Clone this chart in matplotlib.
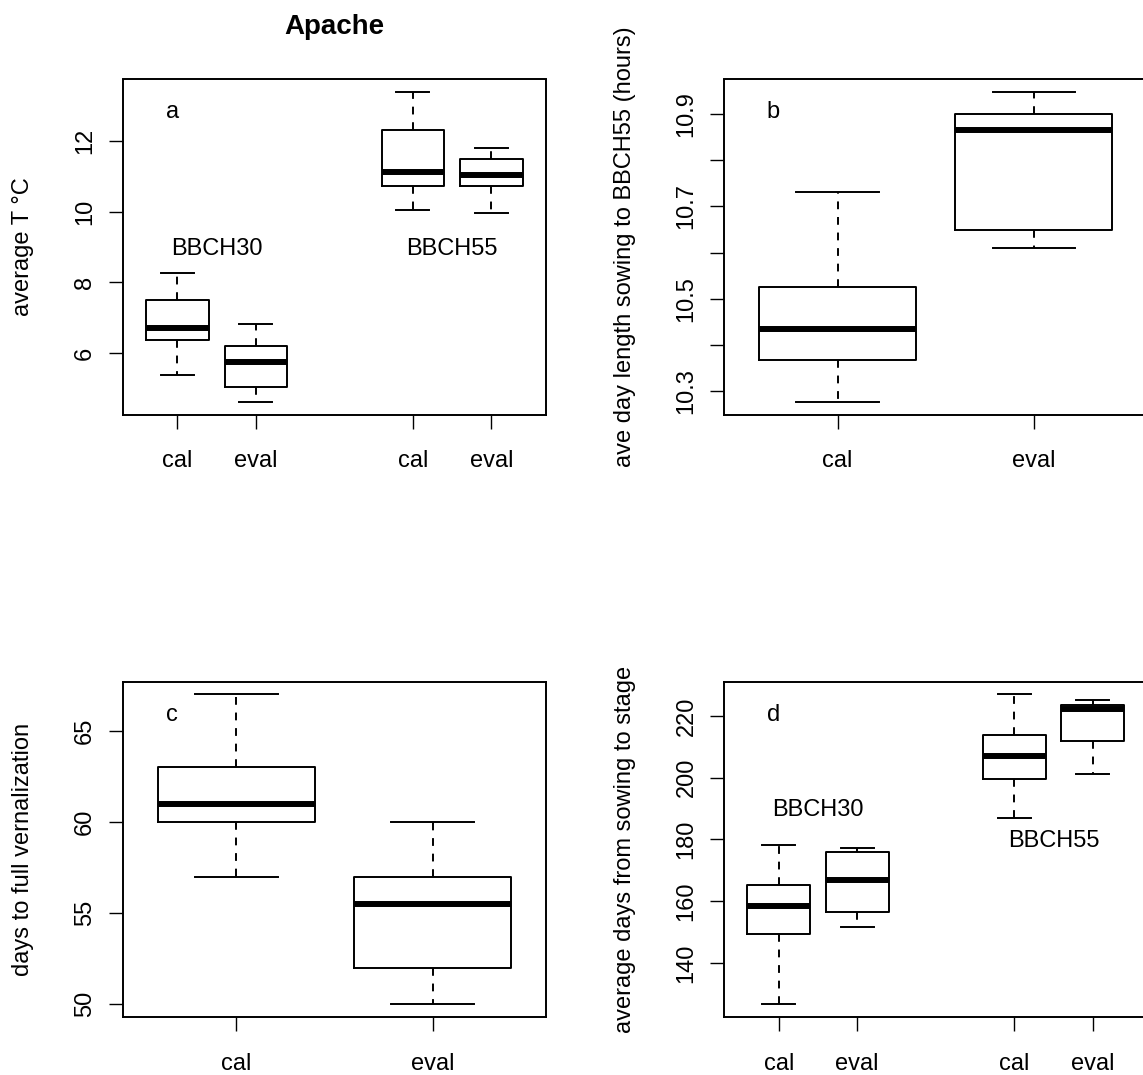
import matplotlib
matplotlib.use("Agg")
import matplotlib.pyplot as plt

plt.rcParams['font.family'] = ['Liberation Sans', 'DejaVu Sans']

# categories
stages = ["BBCH30", "BBCH55"]
sets = ["cal", "eval"]

# panel a: average temperature, boxes in order BBCH30 cal/eval, BBCH55 cal/eval
temp_lo = [5.39, 4.61, 10.05, 9.96]
temp_q1 = [6.36, 5.03, 10.72, 10.72]
temp_med = [6.72, 5.75, 11.13, 11.04]
temp_q3 = [7.49, 6.20, 12.32, 11.49]
temp_hi = [8.26, 6.82, 13.39, 11.81]
temp_yticks = [6, 8, 10, 12]
temp_stage_y = [8.95, 8.95]

# panel b: day length sowing to BBCH55, cal / eval
day_lo = [10.276, 10.610]
day_q1 = [10.367, 10.649]
day_med = [10.434, 10.866]
day_q3 = [10.525, 10.900]
day_hi = [10.731, 10.948]
day_yticks = [10.3, 10.4, 10.5, 10.6, 10.7, 10.8, 10.9]
day_yticklabels = ["10.3", "", "10.5", "", "10.7", "", "10.9"]

# panel c: days to full vernalization, cal / eval
vern_lo = [57, 50]
vern_q1 = [60, 52]
vern_med = [61, 55.5]
vern_q3 = [63, 57]
vern_hi = [67, 60]
vern_yticks = [50, 55, 60, 65]

# panel d: days from sowing to stage
dur_lo = [126.6, 151.5, 187.1, 201.2]
dur_q1 = [149.5, 156.4, 199.6, 211.8]
dur_med = [158.3, 167.0, 207.0, 222.3]
dur_q3 = [165.3, 175.9, 214.0, 223.7]
dur_hi = [178.3, 177.2, 227.1, 225.2]
dur_yticks = [140, 160, 180, 200, 220]
dur_stage_y = [189.6, 179.4]

LW = 1.4
FS = 17


def draw_panel(ax, lo, q1, med, q3, hi, grouped, letter, ylabel, yticks, yticklabels=None):
    if grouped:
        positions = [g * 3 + i + 1 for g in range(len(stages)) for i in range(len(sets))]
        xlabels = sets * len(stages)
    else:
        positions = [i + 1 for i in range(len(sets))]
        xlabels = sets
    stats = [dict(whislo=a, q1=b, med=c, q3=d, whishi=e)
             for a, b, c, d, e in zip(lo, q1, med, q3, hi)]
    ax.bxp(stats, positions=positions, widths=0.8, capwidths=0.42,
           showfliers=False, manage_ticks=False,
           boxprops=dict(color='black', lw=LW),
           whiskerprops=dict(color='black', lw=LW, linestyle=(0, (4, 4))),
           capprops=dict(color='black', lw=LW),
           medianprops=dict(color='black', lw=4.3, solid_capstyle='butt'))

    # R style limits: +-0.5 around the boxes, then 4% extension
    x0, x1 = min(positions) - 0.5, max(positions) + 0.5
    ax.set_xlim(x0 - 0.04 * (x1 - x0), x1 + 0.04 * (x1 - x0))
    y0, y1 = min(lo), max(hi)
    ax.set_ylim(y0 - 0.04 * (y1 - y0), y1 + 0.04 * (y1 - y0))

    ax.set_xticks(positions)
    ax.set_xticklabels(xlabels)
    ax.set_yticks(yticks)
    if yticklabels is not None:
        ax.set_yticklabels(yticklabels)
    ax.tick_params(length=10.4, width=1.0, labelsize=FS, colors='black')
    ax.tick_params(axis='x', pad=15.5)
    ax.tick_params(axis='y', pad=8.5, labelrotation=90)
    for lbl in ax.get_yticklabels():
        lbl.set_va('center')
    for sp in ax.spines.values():
        sp.set_linewidth(LW)

    ax.set_ylabel(ylabel, fontsize=FS)
    ax.yaxis.set_label_coords(-0.234, 0.5)
    ax.yaxis.label.set_va('center')
    ax.text(0.117, 0.884, letter, transform=ax.transAxes, ha='center',
            va='baseline', fontsize=FS)
    return positions


fig = plt.figure(figsize=(11.43, 10.75), dpi=100)
W, H = 1143.0, 1075.0
aw, ah = 423.9 / W, 335.0 / H
ax_a = fig.add_axes([122.5 / W, 1 - 414.5 / H, aw, ah])
ax_b = fig.add_axes([723.8 / W, 1 - 414.5 / H, aw, ah])
ax_c = fig.add_axes([122.5 / W, 1 - 1016.7 / H, aw, ah])
ax_d = fig.add_axes([723.8 / W, 1 - 1016.7 / H, aw, ah])

pos_a = draw_panel(ax_a, temp_lo, temp_q1, temp_med, temp_q3, temp_hi, True,
                   "a", "average T °C", temp_yticks)
draw_panel(ax_b, day_lo, day_q1, day_med, day_q3, day_hi, False,
           "b", "ave day length sowing to BBCH55 (hours)", day_yticks, day_yticklabels)
draw_panel(ax_c, vern_lo, vern_q1, vern_med, vern_q3, vern_hi, False,
           "c", "days to full vernalization", vern_yticks)
pos_d = draw_panel(ax_d, dur_lo, dur_q1, dur_med, dur_q3, dur_hi, True,
                   "d", "average days from sowing to stage", dur_yticks)

# stage labels centred between the cal/eval pair
for k, st in enumerate(stages):
    xc = (pos_a[2 * k] + pos_a[2 * k + 1]) / 2
    ax_a.text(xc, temp_stage_y[k], st, ha='center', va='center', fontsize=FS)
    xc = (pos_d[2 * k] + pos_d[2 * k + 1]) / 2
    ax_d.text(xc, dur_stage_y[k], st, ha='center', va='center', fontsize=FS)

ax_a.set_title("Apache", fontsize=20, fontweight='bold', pad=32.7)

fig.savefig("out.png", dpi=100)
